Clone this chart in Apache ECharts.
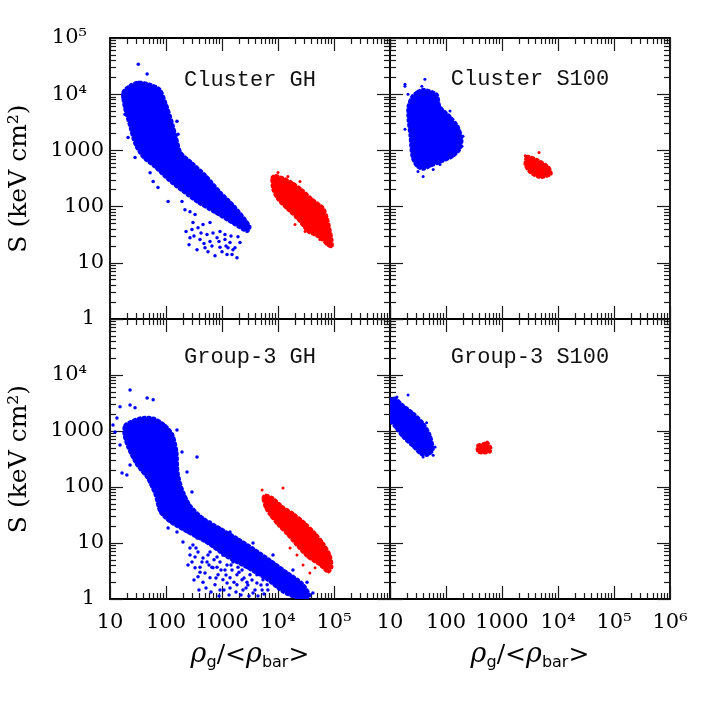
<!DOCTYPE html>
<html>
<head>
<meta charset="utf-8">
<script src="https://cdn.jsdelivr.net/npm/echarts@6.0.0/dist/echarts.min.js"></script>
<style>
html, body { margin: 0; padding: 0; background: #fff; }
#main { width: 708px; height: 708px; }
</style>
</head>
<body>
<div id="main"></div>
<script>
// x: rho_g/<rho_bar>, y: S (keV cm^2), both log.
// Dense parts of each cloud are given as an outline, sparse points one by one.
var xTicks = [10, 100, 1000, 1e4, 1e5, 1e6];
var yTicks = [1, 10, 100, 1000, 1e4, 1e5];
var minorSteps = [2, 3, 4, 5, 6, 7, 8, 9];
var panelTitles = ['Cluster GH', 'Cluster S100', 'Group-3 GH', 'Group-3 S100'];

// Cluster GH
var clusterGhBlueCore = [[17,10900],[23,14500],[32,16400],[52,15100],[78,12300],[100,6900],[128,3300],[157,1570],[185,920],[290,610],[500,370],[920,185],[1700,100],[3160,44],[2800,36],[1570,50],[750,78],[370,118],[200,185],[109,300],[64,500],[39,750],[28,1280],[22,2900],[18,5900]];
var clusterGhBlueDots = [[32,34000],[46,22800],[17,8800],[18.5,4400],[21,1700],[28,750],[59,280],[52,400],[96,560],[193,123],[218,88],[157,228],[268,81],[330,72],[303,52],[373,42],[291,39],[458,48],[540,32],[611,24],[691,34],[815,28],[921,19],[1130,26],[1280,18.5],[1510,14],[1570,17],[1850,12.3],[497,18.5],[405,26],[268,28],[611,52],[921,36],[1130,32],[1390,23],[1230,14],[1930,29],[2370,44],[157,3300],[164,1930],[128,850],[237,373],[405,164],[815,81],[72,218],[109,123],
    [228,36],[258,21],[316,30],[358,17],[422,34],[477,22],[562,15.7],[662,20],[750,13.3],[884,24],[1000,15.7],[1179,20],[1448,30],[1707,18.5],[2096,23]];
var clusterGhRedCore = [[7800,330],[8800,360],[11800,330],[17800,270],[26800,200],[42000,133],[64000,96],[75000,66],[85000,39],[92000,26],[92000,19.3],[75000,21],[56000,28],[34000,36],[22800,59],[15000,88],[10000,133],[8100,200]];
var clusterGhRedDots = [[10000,405],[15000,343],[24700,280],[9600,151],[20100,48],[30400,36],[56000,26],[88000,19.3]];

// Cluster S100
var clusterS100BlueCore = [[31.6,11300],[39,12300],[69,10000],[78,6100],[118,4050],[164,2680],[193,1570],[178,1040],[133,780],[78,610],[52,520],[39,460],[30,520],[24.7,780],[22.8,1780],[21,3580],[21,6100],[24.7,9200]];
var clusterS100BlueDots = [[18.5,13900],[37,13900],[21,10000],[118,5000],[193,1180],[201,1780],[39,343],[59,458],[31.6,422],[25.8,691],[18.5,2370],[78,562],[18.5,15100],[42,18500]];
var clusterS100RedCore = [[2800,780],[4200,690],[6900,500],[7500,373],[4800,330],[3160,405],[2580,560]];
var clusterS100RedDots = [[4580,920],[2600,800]];

// Group-3 GH
var groupGhBlueCore = [[18.5,1280],[34,1710],[59,1710],[96,1280],[133,850],[157,422],[164,185],[193,96],[268,48],[458,28],[920,18.5],[1850,12.3],[3580,8.1],[7200,5.0],[14500,3.0],[27000,1.93],[37000,1.18],[34000,1.04],[22000,1.04],[12300,1.33],[6400,2.2],[2800,3.6],[1230,5.6],[540,10],[237,15.7],[118,23.7],[78,36],[64,72],[46,145],[30,247],[21,500],[17.8,850]];
var groupGhBlueDots = [[22.8,5400],[46,3900],[59,3600],[13.3,1700],[15.1,2700],[28,2600],[22.8,2900],[12.3,960],[15.1,560],[16.4,178],[20,164],[22.8,247],[11.3,1280],[157,1040],[193,422],[358,343],[237,185],[291,81],[268,8.1],[330,5.6],[405,3.7],[497,2.9],[611,2.4],[750,1.8],[921,4.6],[1130,3.3],[1390,2.4],[1850,1.8],[2370,1.45],[3160,2.7],[4200,1.93],[5200,1.45],[6400,1.8],[611,6.9],[815,5.6],[1570,4.6],[2280,3.3],[458,2.0],[921,1.45],[373,2.5],[247,4.05],[201,10.4],[157,15.7],[109,18.5],[358,12.3],[2790,2.0],[3580,1.28],[1230,1.93],[691,3.6],[611,23.7],[1390,15.7],[3580,10],[8140,6.1],[18500,3.3],[33000,2.0],[42000,1.28],[303,9.2],[373,6.9],[540,4.6],[660,3.7],[850,2.7],[1040,2.2],[1390,1.57],[1850,2.7],[2280,2.2],[2900,1.78],[4200,2.7],[5400,2.2],[6600,1.45],[1230,4.05],[1510,3.3],[815,3.7],[562,6.1],[439,4.6],[330,3.6],[1040,6.1],[1930,3.7],[3430,3.6],[4770,3.0],[7200,2.37],
    [268,6.1],[291,4.6],[343,8.1],[405,3.0],[458,5.4],[518,1.57],[586,4.05],[636,1.33],[720,5.0],[782,2.37],[884,1.13],[960,3.3],[1086,1.45],[1179,2.68],[1334,1.18],[1448,4.05],[1638,2.0],[1778,1.33],[2012,3.0],[2184,1.18],[2473,2.37],[2683,1.57],[3034,1.13],[3433,2.18],[3883,1.45],[4394,1.13],[4970,1.78],[5623,1.23],[388,1.45],[316,2.18]];
var groupGhRedCore = [[5400,64],[5900,72],[8100,64],[12300,44],[18500,34],[30000,23],[46000,15],[64000,10],[85000,6.1],[92000,3.7],[78000,3.0],[56000,4.05],[34000,5.6],[22800,8.5],[15000,13.9],[10000,21],[7200,31.6],[5900,44]];
var groupGhRedDots = [[5200,88],[12300,96],[28000,4.05],[37000,2.9],[46000,3.6],[16400,8.1],[21800,6.1]];

// Group-3 S100
var groupS100BlueCore = [[10,3580],[12.3,3880],[17,2900],[26,2100],[39,1390],[52,850],[59,460],[48,373],[37,373],[26,520],[17,780],[12.3,1180],[10,1570]];
var groupS100BlueDots = [[21,4400],[13.3,4050],[59,370],[39,343],[64,520],[45,1400]];
var groupS100RedCore = [[373,560],[497,610],[540,640],[636,500],[611,420],[458,405],[373,420],[358,500]];

var BLUE = '#0000ff', RED = '#ff0000';
var serif = 'DejaVu Serif';

var frames = [
    {left: 110, top: 38, height: 281},
    {left: 390, top: 38, height: 281},
    {left: 110, top: 319, height: 280},
    {left: 390, top: 319, height: 280}
];
var frameWidth = 280;
var titleAt = [[250, 80], [530, 79], [250, 357], [530, 357]];

var supDigits = ['\u2070', '\u00b9', '\u00b2', '\u00b3', '\u2074', '\u2075', '\u2076'];
function tickText(v) {
    var e = Math.round(Math.log(v) / Math.LN10);
    return e < 4 ? String(Math.pow(10, e)) : '10' + supDigits[e];
}

// the 2..9 minor tick values inside each decade
function minorValues(majors) {
    var out = [];
    majors.forEach(function (m, i) {
        if (i < majors.length - 1) {
            minorSteps.forEach(function (s) { out.push(m * s); });
        }
    });
    return out;
}
var xMinor = minorValues(xTicks);
var yMinor = minorValues(yTicks);

var rhoName = '{r|\u03c1}{s|g}{n|/<}{r|\u03c1}{s|bar}{n|>}';

function xAxisFor(panel, position) {
    var withLabels = position === 'bottom' && panel >= 2;
    return {
        type: 'log', logBase: 10, gridIndex: panel, position: position,
        min: xTicks[0], max: xTicks[xTicks.length - 1],
        axisLine: {show: true, onZero: false, lineStyle: {color: '#000', width: 1.8}},
        axisTick: {show: false},
        splitLine: {show: false},
        axisLabel: {
            show: withLabels, margin: 13, color: '#000', fontFamily: serif, fontSize: 21,
            formatter: function (v) {
                if (panel === 2 && v >= 1e6) return '';
                return tickText(v);
            }
        },
        name: withLabels ? rhoName : '',
        nameLocation: 'middle',
        nameGap: 40,
        nameTextStyle: {
            rich: {
                r: {fontFamily: serif, fontStyle: 'italic', fontSize: 27, color: '#000'},
                s: {fontFamily: 'DejaVu Sans', fontSize: 16, color: '#000', padding: [16, 0, 0, 0], verticalAlign: 'bottom'},
                n: {fontFamily: serif, fontSize: 25, color: '#000'}
            }
        }
    };
}

function yAxisFor(panel, position) {
    var withLabels = position === 'left' && (panel === 0 || panel === 2);
    return {
        type: 'log', logBase: 10, gridIndex: panel, position: position,
        min: yTicks[0], max: yTicks[yTicks.length - 1],
        axisLine: {show: true, onZero: false, lineStyle: {color: '#000', width: 1.8}},
        axisTick: {show: false},
        splitLine: {show: false},
        axisLabel: {
            show: withLabels, margin: 6, color: '#000', fontFamily: serif, fontSize: 21,
            formatter: function (v) {
                var e = Math.round(Math.log(v) / Math.LN10);
                if (panel === 2 && e === 5) return '';
                if (e >= 4) return '{p|' + tickText(v) + '}';
                if (e === 0) return '{o|1}';
                return tickText(v);
            },
            rich: {
                p: {fontFamily: serif, fontSize: 21, color: '#000', padding: [0, 17, 0, 0]},
                o: {fontFamily: serif, fontSize: 21, color: '#000', padding: [0, 9, 0, 0]}
            }
        },
        name: withLabels ? 'S (keV cm\u00b2)' : '',
        nameLocation: 'middle',
        nameGap: 78,
        nameTextStyle: {fontFamily: serif, fontSize: 25, color: '#000'}
    };
}

// tick-only axis moved onto the opposite edge, so its outward ticks point into the frame
function tickAxis(dim, panel, position, offset, minor) {
    var ticks = dim === 'x' ? xTicks : yTicks;
    var axisTick = {show: true, inside: false, length: minor ? 6 : 13, lineStyle: {color: '#1a1a1a', width: 1.2}};
    if (minor) axisTick.customValues = dim === 'x' ? xMinor : yMinor;
    return {
        type: 'log', logBase: 10, gridIndex: panel, position: position, offset: offset,
        min: ticks[0], max: ticks[ticks.length - 1],
        axisLine: {show: false, onZero: false},
        axisTick: axisTick,
        axisLabel: {show: false},
        splitLine: {show: false}
    };
}

// dense part of a cloud: filled outline with a speckled edge
function cloud(data, color, panel) {
    return {
        type: 'custom', xAxisIndex: 2 * panel, yAxisIndex: 2 * panel,
        data: data, clip: true, silent: true,
        renderItem: function (params, api) {
            if (params.dataIndex !== 0) return null;
            var pts = data.map(function (p) { return api.coord(p); });
            return {
                type: 'polygon',
                shape: {points: pts, smooth: 0.25},
                style: {fill: color, stroke: color, lineWidth: 3, lineDash: [2, 3], lineCap: 'round'}
            };
        }
    };
}

function dots(data, color, panel, size) {
    return {
        type: 'scatter', xAxisIndex: 2 * panel, yAxisIndex: 2 * panel,
        data: data, symbolSize: size, silent: true,
        itemStyle: {color: color, opacity: 1}
    };
}

var xAxes = [], yAxes = [];
frames.forEach(function (f, i) {
    xAxes.push(xAxisFor(i, 'bottom'), xAxisFor(i, 'top'));
    yAxes.push(yAxisFor(i, 'left'), yAxisFor(i, 'right'));
});
frames.forEach(function (f, i) {
    [false, true].forEach(function (minor) {
        xAxes.push(tickAxis('x', i, 'top', -f.height, minor), tickAxis('x', i, 'bottom', -f.height, minor));
        yAxes.push(tickAxis('y', i, 'right', -frameWidth, minor), tickAxis('y', i, 'left', -frameWidth, minor));
    });
});

var series = [
    cloud(clusterGhBlueCore, BLUE, 0),
    dots(clusterGhBlueDots, BLUE, 0, 3.5),
    cloud(clusterGhRedCore, RED, 0),
    dots(clusterGhRedDots, RED, 0, 3),
    cloud(clusterS100BlueCore, BLUE, 1),
    dots(clusterS100BlueDots, BLUE, 1, 3),
    cloud(clusterS100RedCore, RED, 1),
    dots(clusterS100RedDots, RED, 1, 3),
    cloud(groupGhBlueCore, BLUE, 2),
    dots(groupGhBlueDots, BLUE, 2, 3.5),
    cloud(groupGhRedCore, RED, 2),
    dots(groupGhRedDots, RED, 2, 3),
    cloud(groupS100BlueCore, BLUE, 3),
    dots(groupS100BlueDots, BLUE, 3, 3),
    cloud(groupS100RedCore, RED, 3)
];

var myChart = echarts.init(document.getElementById('main'));
var option = {
    backgroundColor: '#fff',
    animation: false,
    grid: frames.map(function (f) {
        return {left: f.left, top: f.top, width: frameWidth, height: f.height};
    }),
    xAxis: xAxes,
    yAxis: yAxes,
    graphic: panelTitles.map(function (t, i) {
        return {
            type: 'text', x: titleAt[i][0], y: titleAt[i][1], z: 10,
            style: {
                text: t, fill: '#111', font: '22px "Liberation Mono"',
                textAlign: 'center', textVerticalAlign: 'middle', align: 'center', verticalAlign: 'middle'
            }
        };
    }),
    series: series
};
myChart.setOption(option);
</script>
</body>
</html>
